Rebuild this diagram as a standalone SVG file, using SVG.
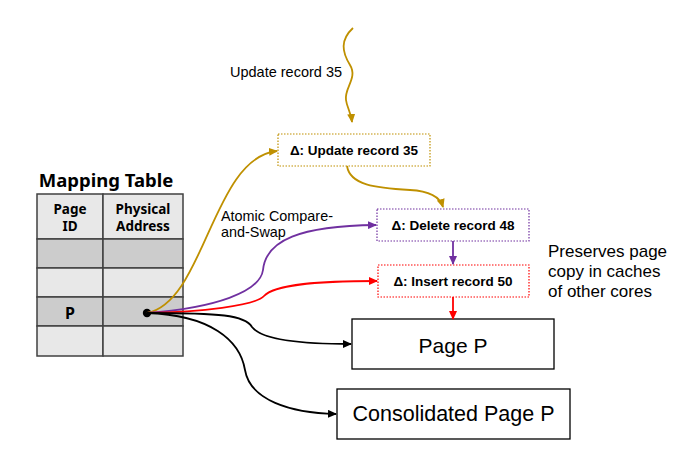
<svg xmlns="http://www.w3.org/2000/svg" width="683" height="461" viewBox="0 0 683 461">
  <style>
    .cell-light { fill: #e8e8e8; stroke: #404040; stroke-width: 1.5; }
    .cell-dark { fill: #cccccc; stroke: #404040; stroke-width: 1.5; }
    .tbl { font-family: "Noto Sans", "Open Sans", sans-serif; font-weight: bold; fill: #000; text-anchor: middle; }
    .delta { fill: #fff; stroke-width: 1.2; stroke-dasharray: 1.5 1.5; }
    .delta-label { font-family: "Liberation Sans", Arial, sans-serif; font-weight: bold; font-size: 13.5px; text-anchor: middle; fill: #000; }
    .page { fill: #fff; stroke: #000; stroke-width: 1.3; }
    .page-label { font-family: "Liberation Sans", Arial, sans-serif; text-anchor: middle; fill: #000; }
    .note { font-family: "Liberation Sans", Arial, sans-serif; fill: #000; }
    .wire { fill: none; stroke-width: 1.8; }
  </style>
  <defs>
    <marker id="arrow-gold" markerUnits="userSpaceOnUse" markerWidth="9" markerHeight="8" refX="8" refY="4" orient="auto">
      <path d="M0,0 L9,4 L0,8 z" fill="#bf9000"/>
    </marker>
    <marker id="arrow-purple" markerUnits="userSpaceOnUse" markerWidth="9" markerHeight="8" refX="8" refY="4" orient="auto">
      <path d="M0,0 L9,4 L0,8 z" fill="#7030a0"/>
    </marker>
    <marker id="arrow-red" markerUnits="userSpaceOnUse" markerWidth="9" markerHeight="8" refX="8" refY="4" orient="auto">
      <path d="M0,0 L9,4 L0,8 z" fill="#ff0000"/>
    </marker>
    <marker id="arrow-black" markerUnits="userSpaceOnUse" markerWidth="9" markerHeight="8" refX="8" refY="4" orient="auto">
      <path d="M0,0 L9,4 L0,8 z" fill="#000"/>
    </marker>
  </defs>

  <!-- Mapping table -->
  <g id="mapping-table">
    <text class="tbl" x="106" y="187" font-size="18.5">Mapping Table</text>
    <rect class="cell-light" x="37" y="194" width="66" height="45"/>
    <rect class="cell-light" x="103" y="194" width="80" height="45"/>
    <rect class="cell-dark" x="37" y="239" width="66" height="29"/>
    <rect class="cell-dark" x="103" y="239" width="80" height="29"/>
    <rect class="cell-light" x="37" y="268" width="66" height="29"/>
    <rect class="cell-light" x="103" y="268" width="80" height="29"/>
    <rect class="cell-dark" x="37" y="297" width="66" height="29"/>
    <rect class="cell-dark" x="103" y="297" width="80" height="29"/>
    <rect class="cell-light" x="37" y="326" width="66" height="30"/>
    <rect class="cell-light" x="103" y="326" width="80" height="30"/>
    <text class="tbl" x="70" y="214" font-size="13.5">Page</text>
    <text class="tbl" x="70" y="231" font-size="13.5">ID</text>
    <text class="tbl" x="143" y="214" font-size="13.5">Physical</text>
    <text class="tbl" x="143" y="231" font-size="13.5">Address</text>
    <text class="tbl" x="70" y="319" font-size="16">P</text>
    <circle cx="147" cy="313" r="4.2" fill="#000"/>
  </g>

  <!-- Delta records -->
  <g id="delta-update">
    <rect class="delta" x="278" y="134" width="152" height="32" stroke="#bf9000"/>
    <text class="delta-label" x="354" y="155">Δ: Update record 35</text>
  </g>
  <g id="delta-delete">
    <rect class="delta" x="377" y="209" width="152" height="32" stroke="#7030a0"/>
    <text class="delta-label" x="453" y="230">Δ: Delete record 48</text>
  </g>
  <g id="delta-insert">
    <rect class="delta" x="378" y="265" width="151" height="32" stroke="#ff0000"/>
    <text class="delta-label" x="453" y="286">Δ: Insert record 50</text>
  </g>

  <!-- Base pages -->
  <g id="page-p">
    <rect class="page" x="352" y="319" width="202" height="50"/>
    <text class="page-label" x="453" y="353" font-size="21">Page P</text>
  </g>
  <g id="consolidated-page-p">
    <rect class="page" x="337" y="389" width="233" height="50"/>
    <text class="page-label" x="453.5" y="421" font-size="21.5">Consolidated Page P</text>
  </g>

  <!-- Annotations -->
  <g id="labels">
    <text class="note" x="230" y="77" font-size="14.5">Update record 35</text>
    <text class="note" x="221" y="221" font-size="14.4">Atomic Compare-</text>
    <text class="note" x="221" y="237" font-size="14.4">and-Swap</text>
    <text class="note" x="548" y="257" font-size="17">Preserves page</text>
    <text class="note" x="548" y="277" font-size="17">copy in caches</text>
    <text class="note" x="548" y="297" font-size="17">of other cores</text>
  </g>

  <!-- Connectors -->
  <g id="connectors">
    <path class="wire" stroke="#bf9000" stroke-width="1.5" d="M353,28 C340,40 342,52 350,65 C358,78 344,88 346,100 C347,108 351,112 352,122" marker-end="url(#arrow-gold)"/>
    <path class="wire" stroke="#bf9000" d="M347,166 C350,185 375,188 410,190 C430,191 440,197 443,207" marker-end="url(#arrow-gold)"/>
    <path class="wire" stroke="#7030a0" d="M453,241 L453,264" marker-end="url(#arrow-purple)"/>
    <path class="wire" stroke="#ff0000" d="M453,297 L453,319" marker-end="url(#arrow-red)"/>
    <path class="wire" stroke="#bf9000" d="M147,313 C205,302 212,158 277,151" marker-end="url(#arrow-gold)"/>
    <path class="wire" stroke="#7030a0" d="M147,313 C215,308 260,292 263,270 C266,240 300,226 376,225" marker-end="url(#arrow-purple)"/>
    <path class="wire" stroke="#ff0000" d="M147,313 C200,312 255,306 264,296 C275,284 320,281 377,281" marker-end="url(#arrow-red)"/>
    <path class="wire" stroke="#000" d="M147,313 C220,313 245,315 252,327 C262,340 300,344 351,344" marker-end="url(#arrow-black)"/>
    <path class="wire" stroke="#000" d="M147,313 C210,315 240,340 245,370 C250,400 290,413 336,414" marker-end="url(#arrow-black)"/>
  </g>
</svg>
